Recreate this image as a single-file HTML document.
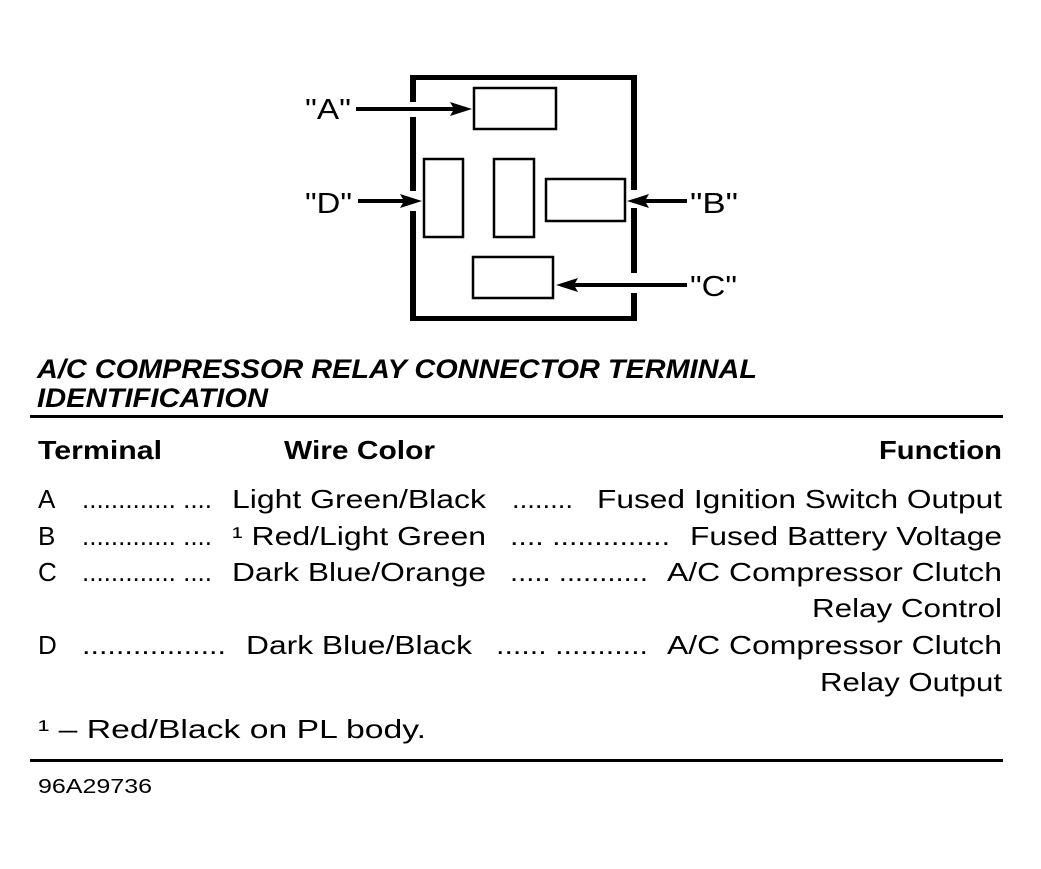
<!DOCTYPE html>
<html><head><meta charset="utf-8"><style>
html,body{margin:0;padding:0;background:#fff;}
svg{display:block;}
text{font-family:"Liberation Sans",Arial,sans-serif;fill:#000;}
</style></head><body>
<svg width="1041" height="869" viewBox="0 0 1041 869" xmlns="http://www.w3.org/2000/svg">
<g fill="#000">
<rect x="410" y="75" width="227" height="5"/>
<rect x="410" y="316" width="227" height="5"/>
<rect x="410" y="75" width="6" height="27"/>
<rect x="410" y="117" width="6" height="74"/>
<rect x="410" y="211" width="6" height="110"/>
<rect x="631" y="75" width="6" height="115"/>
<rect x="631" y="208" width="6" height="65"/>
<rect x="631" y="293" width="6" height="28"/>
</g>
<g fill="none" stroke="#000" stroke-width="2.5">
<rect x="474" y="88" width="82" height="41"/>
<rect x="424" y="159" width="39" height="78"/>
<rect x="494" y="159" width="40" height="78"/>
<rect x="546" y="179" width="79" height="42"/>
<rect x="473" y="257" width="80" height="41"/>
</g>
<g stroke="#000" stroke-width="4">
<line x1="356" y1="109" x2="458" y2="109"/>
<line x1="358" y1="201" x2="408" y2="201"/>
<line x1="642" y1="201" x2="687" y2="201"/>
<line x1="570" y1="285" x2="687" y2="285"/>
</g>
<g fill="#000">
<polygon points="472,109 450,102 454,109 450,116"/>
<polygon points="422,201 400,194 404,201 400,208"/>
<polygon points="627,201 649,194 645,201 649,208"/>
<polygon points="556,285 578,278 574,285 578,292"/>
</g>
<g font-size="29">
<text x="305" y="119" textLength="46" lengthAdjust="spacingAndGlyphs">"A"</text>
<text x="305" y="213" textLength="47" lengthAdjust="spacingAndGlyphs">"D"</text>
<text x="690" y="213" textLength="48" lengthAdjust="spacingAndGlyphs">"B"</text>
<text x="690" y="296" textLength="47" lengthAdjust="spacingAndGlyphs">"C"</text>
</g>
<g font-size="27" font-weight="bold" font-style="italic">
<text x="37" y="378" textLength="720" lengthAdjust="spacingAndGlyphs">A/C COMPRESSOR RELAY CONNECTOR TERMINAL</text>
<text x="37" y="407" textLength="231" lengthAdjust="spacingAndGlyphs">IDENTIFICATION</text>
</g>
<rect x="30" y="415" width="973" height="3" fill="#000"/>
<g font-size="26" font-weight="bold">
<text x="38" y="459" textLength="124" lengthAdjust="spacingAndGlyphs">Terminal</text>
<text x="284" y="459" textLength="151" lengthAdjust="spacingAndGlyphs">Wire Color</text>
<text x="879" y="459" textLength="123" lengthAdjust="spacingAndGlyphs">Function</text>
</g>
<g font-size="26">
<text x="38" y="508">A</text>
<text x="82" y="508" textLength="130" lengthAdjust="spacingAndGlyphs">............. ....</text>
<text x="232" y="508" textLength="254" lengthAdjust="spacingAndGlyphs">Light Green/Black</text>
<text x="512" y="508" textLength="61" lengthAdjust="spacingAndGlyphs">........</text>
<text x="597" y="508" textLength="405" lengthAdjust="spacingAndGlyphs">Fused Ignition Switch Output</text>

<text x="38" y="545">B</text>
<text x="82" y="545" textLength="130" lengthAdjust="spacingAndGlyphs">............. ....</text>
<text x="232" y="545" textLength="254" lengthAdjust="spacingAndGlyphs">¹ Red/Light Green</text>
<text x="510" y="545" textLength="160" lengthAdjust="spacingAndGlyphs">.... ..............</text>
<text x="690" y="545" textLength="312" lengthAdjust="spacingAndGlyphs">Fused Battery Voltage</text>

<text x="38" y="581">C</text>
<text x="82" y="581" textLength="130" lengthAdjust="spacingAndGlyphs">............. ....</text>
<text x="232" y="581" textLength="254" lengthAdjust="spacingAndGlyphs">Dark Blue/Orange</text>
<text x="510" y="581" textLength="138" lengthAdjust="spacingAndGlyphs">..... ...........</text>
<text x="667" y="581" textLength="335" lengthAdjust="spacingAndGlyphs">A/C Compressor Clutch</text>
<text x="812" y="617" textLength="190" lengthAdjust="spacingAndGlyphs">Relay Control</text>

<text x="38" y="654">D</text>
<text x="82" y="654" textLength="144" lengthAdjust="spacingAndGlyphs">.................</text>
<text x="246" y="654" textLength="226" lengthAdjust="spacingAndGlyphs">Dark Blue/Black</text>
<text x="496" y="654" textLength="152" lengthAdjust="spacingAndGlyphs">...... ...........</text>
<text x="667" y="654" textLength="335" lengthAdjust="spacingAndGlyphs">A/C Compressor Clutch</text>
<text x="820" y="691" textLength="182" lengthAdjust="spacingAndGlyphs">Relay Output</text>

<text x="38" y="738" textLength="388" lengthAdjust="spacingAndGlyphs">¹  –  Red/Black on PL body.</text>
</g>
<rect x="30" y="759" width="973" height="3" fill="#000"/>
<text x="38" y="793" font-size="20" textLength="114" lengthAdjust="spacingAndGlyphs">96A29736</text>
</svg>
</body></html>
